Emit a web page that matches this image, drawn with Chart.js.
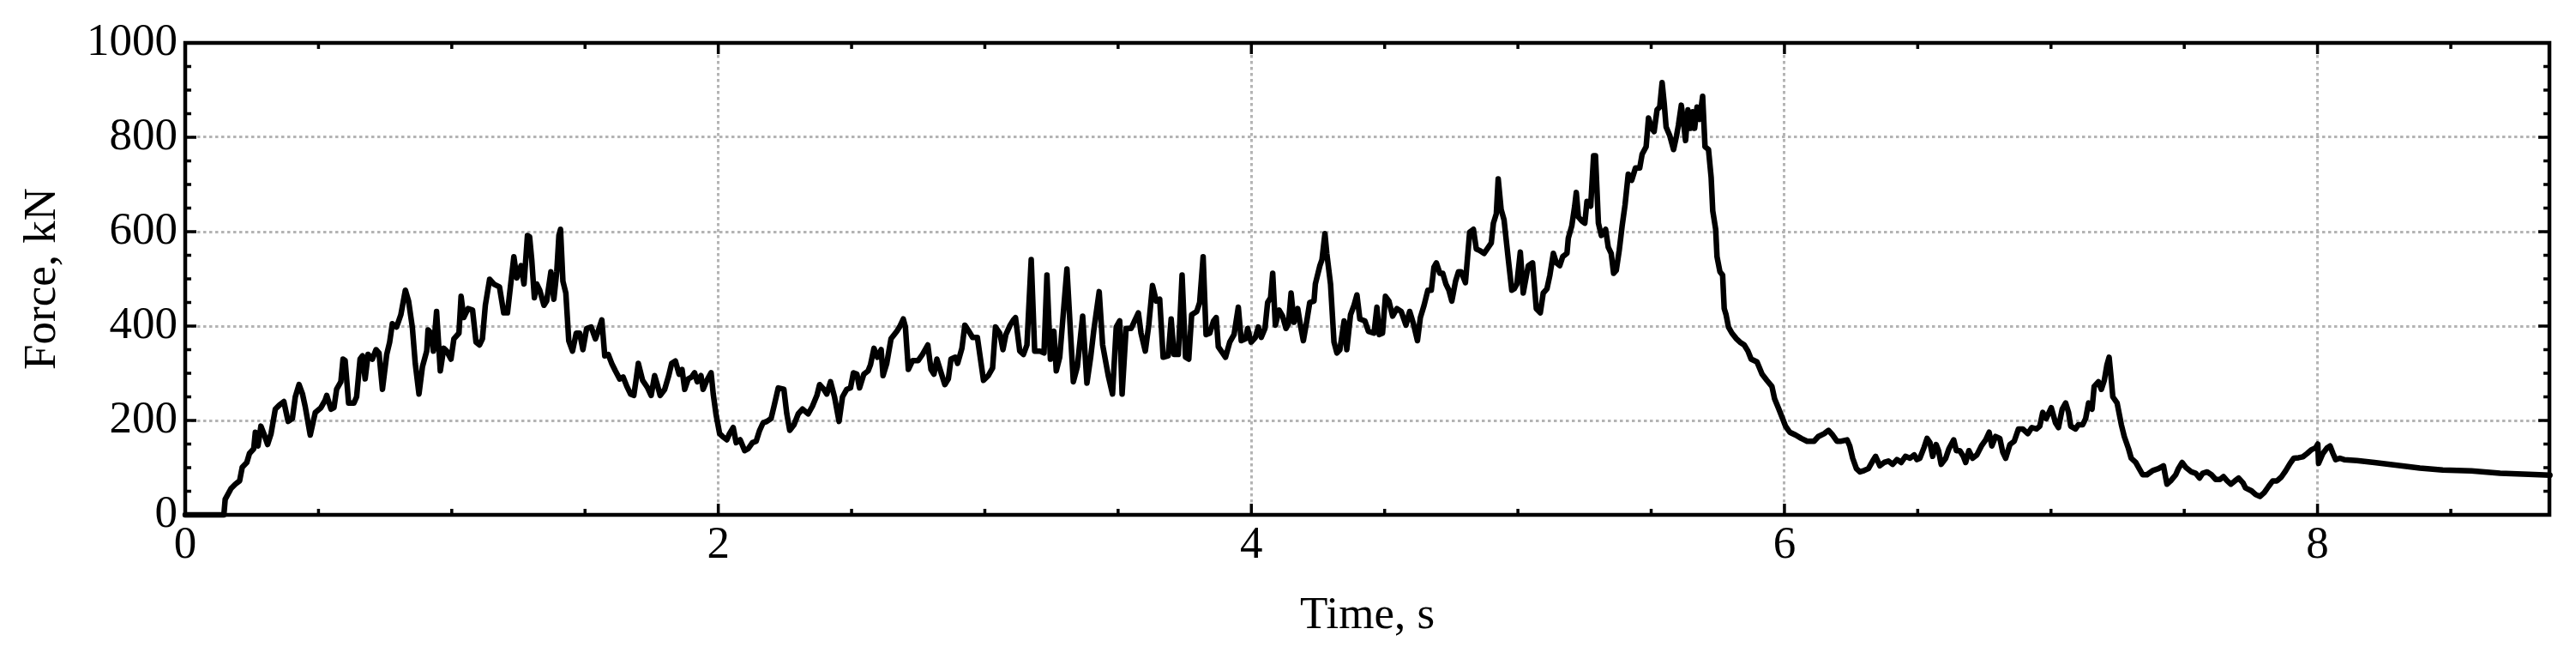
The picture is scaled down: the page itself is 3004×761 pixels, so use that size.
<!DOCTYPE html>
<html>
<head>
<meta charset="utf-8">
<script src="https://cdn.jsdelivr.net/npm/chart.js@4.4.1/dist/chart.umd.min.js"></script>
<style>
  html, body { margin: 0; padding: 0; background: #fff; }
  #wrap { width: 3004px; height: 761px; }
</style>
</head>
<body>
<div id="wrap"><canvas id="myChart" width="3004" height="761"></canvas></div>
<script>
// force record, time in s and force in kN
const timeS = [
  0, 0.05, 0.10, 0.145,
  0.150, 0.172, 0.188, 0.204, 0.214, 0.231, 0.241, 0.257, 0.263, 0.273, 0.284, 0.295, 0.309, 0.322, 0.338, 0.354,
  0.370, 0.386, 0.402, 0.413, 0.427, 0.440, 0.450, 0.469, 0.488, 0.509, 0.525, 0.531, 0.547, 0.558, 0.568, 0.584,
  0.592, 0.600, 0.613, 0.633, 0.643, 0.656, 0.665, 0.675, 0.686, 0.702, 0.716, 0.727, 0.740, 0.756, 0.767, 0.777,
  0.793, 0.809, 0.826, 0.838, 0.852, 0.863, 0.877, 0.890, 0.906, 0.911, 0.922, 0.931, 0.943, 0.957, 0.970, 0.981,
  0.997, 1.008, 1.027, 1.035, 1.045, 1.061, 1.078, 1.091, 1.104, 1.115, 1.126, 1.142, 1.158, 1.179, 1.195, 1.209,
  1.220, 1.233, 1.244, 1.260, 1.271, 1.284,
  1.292, 1.300, 1.310, 1.319, 1.330, 1.346, 1.356, 1.372, 1.383, 1.394, 1.402, 1.408, 1.417, 1.428, 1.439, 1.453,
  1.467, 1.480, 1.492, 1.506, 1.523, 1.539, 1.549, 1.563, 1.574, 1.587, 1.600, 1.614, 1.630, 1.643, 1.657, 1.671,
  1.683, 1.692, 1.700, 1.716, 1.735, 1.748, 1.761, 1.771, 1.782, 1.799, 1.814, 1.825, 1.839, 1.853, 1.864, 1.874,
  1.887, 1.900, 1.911, 1.921, 1.935, 1.943, 1.957, 1.973, 1.981, 1.992, 2.005, 2.016, 2.032, 2.042, 2.056, 2.067,
  2.082, 2.099, 2.112, 2.128, 2.142, 2.155, 2.168, 2.182, 2.198, 2.209, 2.225, 2.246, 2.257, 2.268, 2.284, 2.300,
  2.316, 2.337, 2.353, 2.370, 2.380, 2.396, 2.407, 2.421, 2.436, 2.453, 2.466, 2.482, 2.496, 2.507, 2.520, 2.530,
  2.546, 2.562, 2.571,
  2.584, 2.597, 2.611, 2.618, 2.632, 2.648, 2.670, 2.680, 2.694, 2.702, 2.713, 2.729, 2.750, 2.766, 2.786, 2.798,
  2.809, 2.820, 2.836, 2.850, 2.863, 2.873, 2.889, 2.898, 2.914, 2.925, 2.940, 2.954, 2.972, 2.986, 2.995, 3.013,
  3.029, 3.040, 3.056, 3.068, 3.079, 3.095, 3.107, 3.115, 3.131, 3.145, 3.158, 3.174, 3.187, 3.206, 3.222, 3.233,
  3.246, 3.259, 3.268, 3.281, 3.308, 3.324, 3.332, 3.347, 3.367, 3.383, 3.397, 3.409, 3.429, 3.442, 3.463, 3.479,
  3.493, 3.506, 3.515, 3.530, 3.549, 3.562, 3.576, 3.586, 3.602, 3.615, 3.629, 3.643, 3.656, 3.669, 3.688, 3.699,
  3.710, 3.726, 3.740, 3.753, 3.765, 3.776, 3.795, 3.806, 3.819, 3.830, 3.844, 3.858,
  3.868, 3.876, 3.903, 3.919, 3.935, 3.951, 3.962, 3.978, 3.986, 3.999, 4.015, 4.026, 4.037, 4.051, 4.061, 4.072,
  4.080, 4.090, 4.104, 4.117, 4.130, 4.139, 4.149, 4.160, 4.174, 4.184, 4.195, 4.208, 4.219, 4.235, 4.240, 4.257,
  4.265, 4.276, 4.283, 4.297, 4.310, 4.321, 4.332, 4.348, 4.358, 4.372, 4.385, 4.396, 4.407, 4.426, 4.439, 4.460,
  4.471, 4.480, 4.492, 4.503, 4.516, 4.530, 4.546, 4.562, 4.580, 4.594, 4.608, 4.623, 4.634, 4.648, 4.662, 4.675,
  4.685, 4.694, 4.707, 4.718, 4.730, 4.741, 4.752, 4.766, 4.777, 4.787, 4.803, 4.819, 4.833, 4.844, 4.857, 4.873,
  4.889, 4.900, 4.908, 4.919, 4.926, 4.937, 4.948, 4.964, 4.977, 4.986, 4.996, 5.009, 5.020, 5.028, 5.039, 5.055,
  5.069, 5.084, 5.095, 5.109, 5.120, 5.133, 5.144,
  5.157, 5.168, 5.184, 5.189, 5.202, 5.213, 5.219, 5.227, 5.241, 5.251, 5.259, 5.273, 5.284, 5.291, 5.302, 5.313,
  5.329, 5.339, 5.350, 5.359, 5.369, 5.380, 5.391, 5.402, 5.414, 5.427, 5.441, 5.457, 5.466, 5.481, 5.490, 5.502,
  5.511, 5.522, 5.532, 5.541, 5.549, 5.556, 5.570, 5.584, 5.595, 5.602, 5.613, 5.620, 5.629, 5.638, 5.648, 5.656,
  5.663, 5.672, 5.682, 5.693, 5.702, 5.715, 5.725, 5.731, 5.742, 5.747, 5.758, 5.768, 5.774, 5.781, 5.790, 5.803,
  5.820, 5.833, 5.849, 5.863, 5.875, 5.897, 5.916, 5.934, 5.953, 5.963, 5.977, 5.993, 6.004, 6.020, 6.042, 6.063,
  6.085, 6.111, 6.127, 6.149, 6.165, 6.181, 6.197, 6.213, 6.235, 6.245, 6.256, 6.270, 6.283, 6.299, 6.315, 6.331,
  6.342, 6.358, 6.374, 6.390, 6.406, 6.422, 6.431,
  6.438, 6.454, 6.471, 6.487, 6.497, 6.508, 6.524, 6.535, 6.546, 6.556, 6.569, 6.578, 6.588, 6.605, 6.617, 6.635,
  6.645, 6.658, 6.671, 6.680, 6.692, 6.706, 6.722, 6.739, 6.755, 6.768, 6.778, 6.792, 6.808, 6.819, 6.830, 6.846,
  6.862, 6.878, 6.894, 6.913, 6.928, 6.946, 6.958, 6.969, 6.982, 7.001, 7.017, 7.028, 7.042, 7.055, 7.066, 7.074,
  7.092, 7.103, 7.119, 7.130, 7.141, 7.154, 7.162, 7.178, 7.189, 7.200, 7.210, 7.218, 7.226, 7.232, 7.248, 7.264,
  7.275, 7.291, 7.301, 7.318, 7.331, 7.344, 7.360, 7.382, 7.403, 7.422, 7.435, 7.449, 7.468, 7.478, 7.492, 7.505,
  7.527, 7.543, 7.557, 7.569, 7.586, 7.602, 7.618, 7.634, 7.647, 7.661, 7.675, 7.690, 7.704,
  7.720, 7.730, 7.752, 7.768, 7.784, 7.800, 7.816, 7.832, 7.848, 7.864, 7.880, 7.897, 7.911, 7.929, 7.945, 7.961,
  7.977, 7.993, 8.001, 8.004, 8.020, 8.036, 8.047, 8.058, 8.068, 8.084, 8.100, 8.148, 8.213, 8.299, 8.384, 8.470,
  8.577, 8.685, 8.792, 8.872
]
const forceKN = [
  0, 0, 0, 0,
  33, 56, 65, 72, 101, 111, 130, 140, 175, 146, 188, 172, 149, 172, 224, 233,
  240, 198, 204, 250, 276, 256, 230, 169, 217, 227, 243, 253, 224, 227, 266, 282,
  330, 327, 237, 237, 250, 330, 337, 288, 340, 330, 350, 343, 266, 340, 366, 405,
  398, 424, 476, 453, 398, 321, 256, 314, 347, 392, 385, 347, 431, 305, 353, 347,
  330, 373, 385, 463, 418, 437, 434, 366, 360, 373, 444, 499, 489, 483, 428, 428,
  483, 547, 502, 528, 489, 592,
  589, 541, 460, 489, 476, 444, 453, 515, 457, 515, 592, 605, 495, 470, 369, 347,
  385, 385, 350, 395, 398, 373, 389, 413, 337, 340, 321, 305, 288, 292, 272, 256,
  253, 288, 321, 285, 269, 253, 295, 276, 253, 266, 295, 321, 326, 298, 308, 266,
  288, 292, 301, 282, 295, 266, 285, 301, 256, 211, 172, 166, 159, 172, 185, 153,
  159, 136, 140, 153, 156, 179, 195, 198, 204, 230, 269, 266, 214, 179, 191, 214,
  224, 214, 230, 253, 276, 266, 256, 282, 250, 198, 250, 266, 269, 301, 298, 269,
  298, 305, 318,
  353, 334, 350, 295, 321, 373, 389, 398, 415, 398, 308, 327, 327, 340, 360, 308,
  298, 330, 301, 276, 288, 330, 334, 321, 353, 402, 389, 376, 376, 321, 285, 295,
  311, 398, 385, 350, 382, 402, 413, 418, 347, 340, 360, 541, 347, 347, 343, 508,
  330, 389, 305, 334, 521, 360, 282, 314, 421, 279, 334, 392, 473, 360, 295, 256,
  398, 411, 256, 395, 395, 411, 428, 385, 347, 402, 486, 453, 457, 334, 337, 415,
  340, 340, 508, 334, 330, 424, 431, 450, 547, 382, 385, 411,
  418, 356, 334, 366, 382, 440, 369, 373, 395, 366, 376, 398, 376, 395, 450, 460,
  512, 402, 434, 421, 395, 405, 470, 408, 437, 402, 369, 411, 450, 453, 489, 528,
  541, 596, 554, 489, 366, 343, 350, 411, 350, 424, 444, 466, 415, 411, 389, 385,
  440, 382, 385, 463, 453, 421, 437, 431, 402, 431, 405, 369, 418, 444, 476, 476,
  525, 534, 512, 512, 489, 476, 453, 495, 515, 515, 492, 599, 605, 563, 560, 554,
  567, 576, 618, 638, 712, 647, 625, 541, 476, 479, 489, 557, 470, 495, 528, 534,
  437, 428, 470, 479, 508, 554, 534,
  528, 547, 554, 586, 612, 654, 683, 631, 622, 618, 664, 654, 761, 761, 618, 592,
  605, 567, 554, 512, 518, 560, 612, 657, 722, 709, 735, 735, 764, 780, 841, 819,
  812, 858, 864, 916, 871, 822, 803, 774, 803, 825, 868, 838, 793, 858, 819, 854,
  819, 864, 838, 887, 780, 774, 715, 644, 605, 547, 515, 508, 437, 424, 398, 385,
  373, 366, 360, 347, 330, 324, 298, 285, 272, 246, 227, 204, 188, 175, 169, 162,
  156, 156, 166, 172, 179, 169, 156, 156, 159, 146, 120, 98, 91, 94, 98, 114,
  124, 104, 111, 114, 107, 117, 114,
  111, 124, 120, 127, 117, 120, 143, 162, 153, 124, 149, 136, 107, 120, 140, 159,
  136, 136, 124, 111, 136, 120, 127, 146, 159, 175, 146, 166, 162, 133, 120, 149,
  156, 182, 182, 172, 185, 182, 188, 217, 204, 227, 195, 185, 224, 237, 217, 188,
  182, 191, 191, 204, 237, 224, 272, 282, 266, 285, 318, 334, 288, 250, 237, 191,
  166, 140, 120, 111, 98, 85, 85, 94, 98, 104, 65, 72, 85, 98, 111, 101,
  91, 88, 78, 88, 91, 85, 75, 75, 81, 72, 65, 72, 78,
  68, 57, 51, 43, 39, 47, 60, 72, 72, 80, 93, 109, 120, 121, 123, 130,
  138, 142, 150, 109, 130, 142, 146, 130, 117, 120, 117, 115, 111, 105, 99, 95,
  93, 88, 86, 84
]

const xMax = 8.87
const xTicks = [0, 2, 4, 6, 8]
const yTicks = [0, 200, 400, 600, 800, 1000]

const serif = '"Liberation Serif", "Times New Roman", serif'
const gridGray = '#b4b4b4'

// frame round the plot area with inward ticks on all four sides
const frameTicks = {
  id: 'frameTicks',
  afterDatasetsDraw(chart) {
    const {ctx, chartArea: a, scales: {x, y}} = chart
    ctx.save()
    ctx.strokeStyle = '#000'
    ctx.lineWidth = 3.5
    ctx.beginPath()
    for (let i = 0; i * 0.5 <= xMax; i++) {
      const px = x.getPixelForValue(i * 0.5)
      const len = i % 4 === 0 ? 13 : 7
      ctx.moveTo(px, a.bottom); ctx.lineTo(px, a.bottom - len)
      ctx.moveTo(px, a.top); ctx.lineTo(px, a.top + len)
    }
    for (let i = 0; i <= 20; i++) {
      const py = y.getPixelForValue(i * 50)
      const len = i % 4 === 0 ? 13 : 7
      ctx.moveTo(a.left, py); ctx.lineTo(a.left + len, py)
      ctx.moveTo(a.right, py); ctx.lineTo(a.right - len, py)
    }
    ctx.stroke()
    ctx.lineWidth = 4.5
    ctx.strokeRect(a.left, a.top, a.right - a.left, a.bottom - a.top)
    ctx.restore()
  }
}

const points = timeS.map((t, i) => ({x: t, y: forceKN[i]}))

const myChart = new Chart(document.getElementById('myChart').getContext('2d'), {
  type: 'line',
  data: {
    datasets: [{
      label: 'Force',
      data: points,
      borderColor: '#000',
      borderWidth: 6.5,
      borderJoinStyle: 'round',
      borderCapStyle: 'round',
      pointRadius: 0,
      tension: 0,
      fill: false,
      clip: 6
    }]
  },
  options: {
    responsive: false,
    animation: false,
    devicePixelRatio: 1,
    layout: { padding: { top: 50, right: 31, left: 0, bottom: 0 } },
    plugins: { legend: { display: false }, tooltip: { enabled: false } },
    scales: {
      x: {
        type: 'linear',
        min: 0,
        max: xMax,
        afterFit: s => { s.height = 161 },
        afterBuildTicks: s => { s.ticks = xTicks.map(v => ({value: v})) },
        ticks: {
          includeBounds: false,
          color: '#000',
          padding: 4,
          font: { family: serif, size: 53 },
          maxRotation: 0,
          callback: v => String(v)
        },
        grid: {
          drawTicks: false,
          lineWidth: 3,
          color: c => (c.tick && c.tick.value > 0 && c.tick.value < xMax) ? gridGray : 'rgba(0,0,0,0)'
        },
        border: { display: false, dash: [3.5, 3.5] },
        title: {
          display: true,
          text: 'Time, s',
          color: '#000',
          font: { family: serif, size: 53 },
          padding: { top: 0, bottom: 11 }
        }
      },
      y: {
        min: 0,
        max: 1000,
        afterFit: s => { s.width = 216 },
        afterBuildTicks: s => { s.ticks = yTicks.map(v => ({value: v})) },
        ticks: {
          color: '#000',
          padding: 9,
          font: { family: serif, size: 53 },
          callback: v => String(v)
        },
        grid: {
          drawTicks: false,
          lineWidth: 3,
          color: c => (c.tick && c.tick.value > 0 && c.tick.value < 1000) ? gridGray : 'rgba(0,0,0,0)'
        },
        border: { display: false, dash: [3.5, 3.5] },
        title: {
          display: true,
          text: 'Force, kN',
          color: '#000',
          font: { family: serif, size: 53 },
          padding: { top: 18, bottom: 0 }
        }
      }
    }
  },
  plugins: [frameTicks]
})
</script>
</body>
</html>
